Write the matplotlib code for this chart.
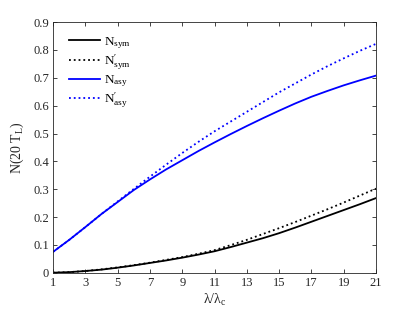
import matplotlib
matplotlib.use("Agg")
import matplotlib.pyplot as plt

plt.rcParams['font.family'] = ['Liberation Serif', 'DejaVu Serif']
plt.rcParams['mathtext.fontset'] = 'custom'
plt.rcParams['mathtext.rm'] = 'Liberation Serif'
plt.rcParams['mathtext.it'] = 'Liberation Serif:italic'

x = [1, 2, 3, 4, 5, 6, 7, 8, 9, 10, 11, 12, 13, 14, 15, 16, 17, 18, 19, 20, 21]
n_sym = [0.0, 0.002, 0.006, 0.011, 0.018, 0.026, 0.035, 0.044, 0.054, 0.065, 0.077,
         0.092, 0.108, 0.124, 0.142, 0.162, 0.183, 0.204, 0.225, 0.246, 0.268]
n_sym_p = [0.0, 0.002, 0.006, 0.012, 0.019, 0.027, 0.036, 0.046, 0.056, 0.068, 0.081,
           0.099, 0.118, 0.139, 0.160, 0.182, 0.205, 0.228, 0.252, 0.277, 0.302]
n_asy = [0.075, 0.118, 0.164, 0.211, 0.254, 0.297, 0.335, 0.371, 0.404, 0.437, 0.468,
         0.498, 0.527, 0.555, 0.582, 0.608, 0.632, 0.653, 0.673, 0.691, 0.708]
n_asy_p = [0.075, 0.118, 0.164, 0.211, 0.256, 0.301, 0.345, 0.388, 0.430, 0.470, 0.508,
           0.543, 0.578, 0.613, 0.648, 0.680, 0.712, 0.742, 0.770, 0.797, 0.822]

labels = [r'$\mathrm{N_{sym}}$', r'$\mathrm{N^{\prime}_{sym}}$',
          r'$\mathrm{N_{asy}}$', r'$\mathrm{N^{\prime}_{asy}}$']
xticks = [1, 3, 5, 7, 9, 11, 13, 15, 17, 19, 21]
yticks = [0, 0.1, 0.2, 0.3, 0.4, 0.5, 0.6, 0.7, 0.8, 0.9]
yticklabels = ['0', '0.1', '0.2', '0.3', '0.4', '0.5', '0.6', '0.7', '0.8', '0.9']

fig = plt.figure(figsize=(4.15, 3.12), dpi=100)
ax = fig.add_axes([0.128, 0.126, 0.778, 0.803])

ax.plot(x, n_sym, color='black', lw=1.3, ls='-', label=labels[0])
ax.plot(x, n_sym_p, color='black', lw=1.3, ls=':', label=labels[1])
ax.plot(x, n_asy, color='blue', lw=1.3, ls='-', label=labels[2])
ax.plot(x, n_asy_p, color='blue', lw=1.3, ls=':', label=labels[3])

ax.set_xlim(1, 21)
ax.set_ylim(0, 0.9)
ax.set_xticks(xticks)
ax.set_yticks(yticks)
ax.set_yticklabels(yticklabels)

axcol = '#262626'
for s in ax.spines.values():
    s.set_color(axcol)
    s.set_linewidth(0.6)
ax.tick_params(direction='in', top=True, right=True, length=3, width=0.6,
               colors=axcol, labelsize=9, labelcolor=axcol, pad=3)

ax.set_xlabel(r'$\mathrm{\lambda/\lambda_c}$', fontsize=10, color=axcol, labelpad=2)
ax.set_ylabel(r'$\mathrm{N(20\ T_L)}$', fontsize=10, color=axcol, labelpad=5)

leg = ax.legend(loc='upper left', frameon=False, fontsize=9.5, handlelength=2.4,
                handletextpad=0.25, labelspacing=0.12, borderaxespad=0.3,
                bbox_to_anchor=(0.02, 0.985))

fig.savefig('out.png', dpi=100)
